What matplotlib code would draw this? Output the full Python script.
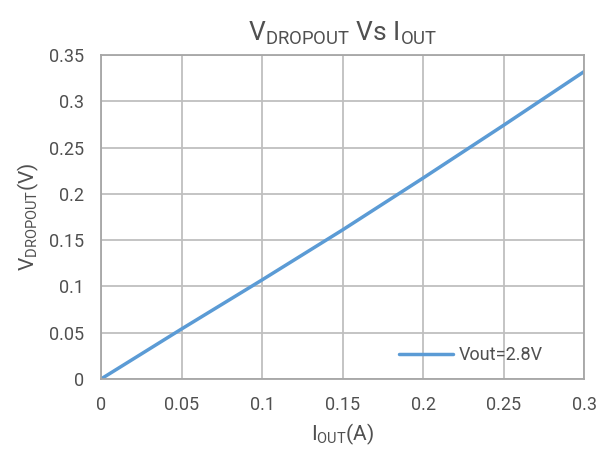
import matplotlib
matplotlib.use("Agg")
import matplotlib.pyplot as plt

plt.rcParams['font.family'] = ['Roboto', 'DejaVu Sans']
plt.rcParams['mathtext.fontset'] = 'custom'
plt.rcParams['mathtext.rm'] = 'Roboto'
plt.rcParams['mathtext.default'] = 'regular'

# data
iout = [0, 0.05, 0.1, 0.15, 0.2, 0.25, 0.3]
vdrop = [0, 0.054, 0.107, 0.161, 0.217, 0.274, 0.332]
xticks = [0, 0.05, 0.1, 0.15, 0.2, 0.25, 0.3]
xticklabels = ['0', '0.05', '0.1', '0.15', '0.2', '0.25', '0.3']
yticks = [0, 0.05, 0.1, 0.15, 0.2, 0.25, 0.3, 0.35]
yticklabels = ['0', '0.05', '0.1', '0.15', '0.2', '0.25', '0.3', '0.35']

txt = '#505050'
fig = plt.figure(figsize=(6.06, 4.5), dpi=100)
ax = fig.add_axes([0.1667, 0.1578, 0.797, 0.72])
ax.plot(iout, vdrop, color='#5b9bd5', lw=2.5, label='Vout=2.8V', solid_capstyle='round')

ax.set_xlim(0, 0.3)
ax.set_ylim(0, 0.35)
ax.set_xticks(xticks)
ax.set_xticklabels(xticklabels)
ax.set_yticks(yticks)
ax.set_yticklabels(yticklabels)
ax.tick_params(length=0, labelsize=13, colors=txt)
ax.tick_params(axis='y', pad=12)
ax.tick_params(axis='x', pad=12)
ax.grid(True, color='#bfbfbf', lw=1.3)
for s in ax.spines.values():
    s.set_color('#a6a6a6')
    s.set_linewidth(1.3)

ax.set_title(r'$V_{DROPOUT}$ Vs $I_{OUT}$', fontsize=19, color=txt, pad=10)
ax.set_xlabel(r'$I_{OUT}$(A)', fontsize=15, color=txt, labelpad=6)
ax.set_ylabel(r'$V_{DROPOUT}$(V)', fontsize=15, color=txt, labelpad=6)

leg = ax.legend(loc='center right', bbox_to_anchor=(0.915, 0.074), frameon=False,
                fontsize=13, handlelength=3.0, handletextpad=0.3,
                borderaxespad=0, borderpad=0)
for t in leg.get_texts():
    t.set_color(txt)

fig.savefig('out.png', dpi=100)
